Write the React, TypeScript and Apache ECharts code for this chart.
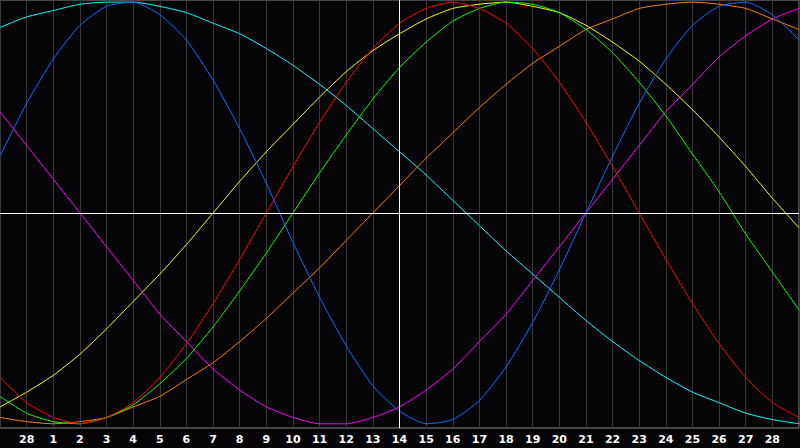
import { useEffect, useRef } from "react";
import * as echarts from "echarts";

// x positions 0..30, one per day; labels for days shown under the grid
const dayLabels = [
  "27", "28", "1", "2", "3", "4", "5", "6", "7", "8", "9", "10", "11", "12", "13",
  "14", "15", "16", "17", "18", "19", "20", "21", "22", "23", "24", "25", "26", "27", "28", "1",
];

const todayIndex = 15;

// percent values, one per day
const physical = [
  27, 52, 73, 89, 98, 100, 94, 82, 63, 40, 14, -14, -40, -63, -82, -94,
  -100, -98, -89, -73, -52, -27, 0, 27, 52, 73, 89, 98, 100, 94, 82,
];
const emotional = [
  -78, -90, -97, -100, -97, -90, -78, -62, -43, -22, 0, 22, 43, 62, 78, 90,
  97, 100, 97, 90, 78, 62, 43, 22, 0, -22, -43, -62, -78, -90, -97,
];
const intellectual = [
  -87, -95, -99, -100, -97, -91, -81, -69, -54, -37, -19, 0, 19, 37, 54, 69,
  81, 91, 97, 100, 99, 95, 87, 76, 62, 46, 28, 10, -10, -28, -46,
];
const intuitive = [
  48, 32, 16, 0, -16, -32, -48, -61, -74, -84, -92, -97, -100, -100, -97, -92,
  -84, -74, -61, -48, -32, -16, 0, 16, 32, 48, 61, 74, 84, 92, 97,
];
const aesthetic = [
  -92, -85, -77, -67, -55, -42, -29, -15, 0, 15, 29, 42, 55, 67, 77, 85,
  92, 97, 99, 100, 98, 95, 89, 81, 72, 61, 49, 36, 22, 7, -7,
];
const awareness = [
  -97, -99, -100, -99, -97, -92, -87, -79, -71, -61, -50, -38, -26, -13, 0, 13,
  26, 38, 50, 61, 71, 79, 87, 92, 97, 99, 100, 99, 97, 92, 87,
];
const spiritual = [
  88, 93, 96, 99, 100, 100, 98, 95, 90, 85, 78, 70, 61, 51, 40, 29,
  18, 6, -6, -18, -29, -40, -51, -61, -70, -78, -85, -90, -95, -98, -100,
];

const seriesDefs = [
  { name: "Spiritual", values: spiritual, color: "#00ffff" },
  { name: "Intuitive", values: intuitive, color: "#ff00ff" },
  { name: "Awareness", values: awareness, color: "#ff8000" },
  { name: "Aesthetic", values: aesthetic, color: "#ffff00" },
  { name: "Intellectual", values: intellectual, color: "#00ff00" },
  { name: "Emotional", values: emotional, color: "#ff0000" },
  { name: "Physical", values: physical, color: "#0a6cff" },
];

const Biorhythm = () => {
  const chartRef = useRef<HTMLDivElement>(null);

  useEffect(() => {
    if (!chartRef.current) return;
    const chart = echarts.init(chartRef.current, undefined, { renderer: "svg" });

    const series: echarts.SeriesOption[] = seriesDefs.map((s, idx) => ({
      name: s.name,
      type: "line",
      smooth: 0.2,
      symbol: "none",
      silent: true,
      lineStyle: { color: s.color, width: 1 },
      data: s.values.map((v, i) => [i, v]),
      markLine:
        idx === 0
          ? {
              silent: true,
              symbol: "none",
              label: { show: false },
              lineStyle: { color: "#ffffff", width: 1, type: "solid" },
              data: [{ yAxis: 0 }, { xAxis: todayIndex }],
            }
          : undefined,
    }));

    chart.setOption({
      animation: false,
      backgroundColor: "#050508",
      grid: {
        left: 0,
        right: 1,
        top: 0,
        bottom: 20,
        show: true,
        borderColor: "#8c8c8c",
        borderWidth: 1,
      },
      xAxis: {
        type: "value",
        min: 0,
        max: dayLabels.length - 1,
        interval: 1,
        axisLine: { show: false },
        axisTick: { show: false },
        splitLine: { show: true, lineStyle: { color: "#363636", width: 1 } },
        axisLabel: {
          color: "#ffffff",
          fontFamily: "DejaVu Sans",
          fontWeight: "bold",
          fontSize: 11,
          margin: 6,
          showMinLabel: false,
          showMaxLabel: false,
          formatter: (v: number) => dayLabels[v] ?? "",
        },
      },
      yAxis: {
        type: "value",
        min: -102,
        max: 101,
        axisLine: { show: false },
        axisTick: { show: false },
        axisLabel: { show: false },
        splitLine: { show: false },
      },
      series,
    });

    return () => {
      chart.dispose();
    };
  }, []);

  return <div ref={chartRef} style={{ width: "800px", height: "448px" }} />;
};

export default function App() {
  return (
    <div style={{ position: "fixed", left: 0, top: 0, width: 800, height: 448 }}>
      <Biorhythm />
    </div>
  );
}
